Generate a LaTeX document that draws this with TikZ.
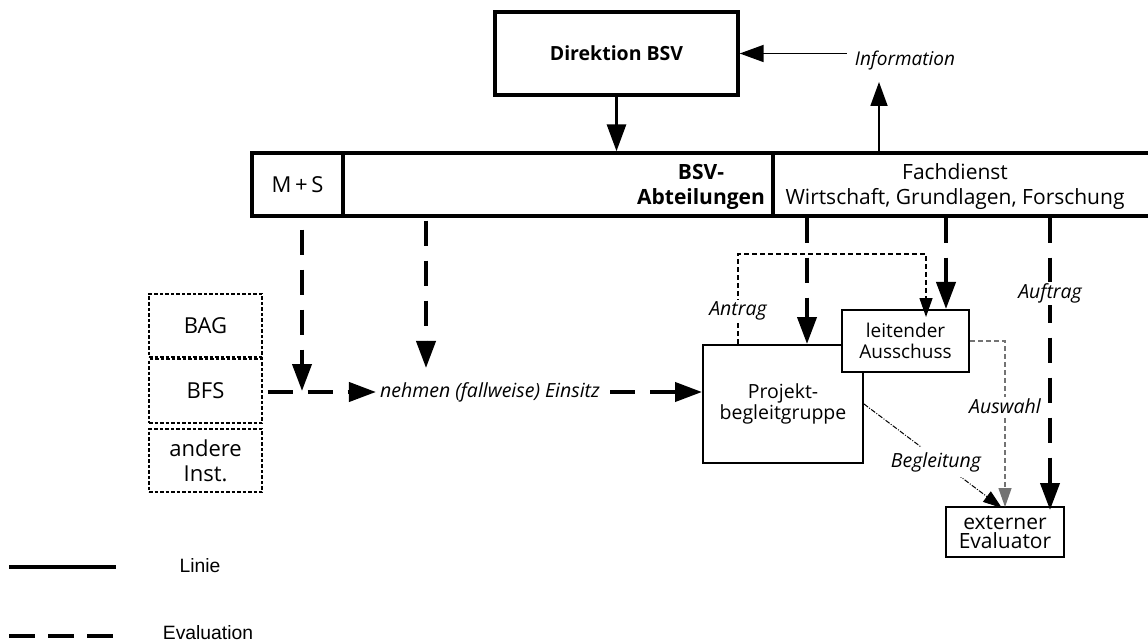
\documentclass[tikz,border=0pt]{standalone}
\usepackage{fontspec}
\setmainfont{Open Sans}
\newfontfamily\legendfont{Liberation Sans}
\usetikzlibrary{arrows.meta,calc}
\newcommand{\fs}[1]{\fontsize{#1}{#1}\selectfont}
\begin{document}
\begin{tikzpicture}[x=1pt,y=-1pt,
  box/.style={draw,line width=2pt,inner sep=0pt,align=center},
  thickbox/.style={draw,line width=3.4pt,inner sep=0pt,align=center},
  dotbox/.style={draw,line width=1.3pt,dash pattern=on 3.5pt off 2pt,inner sep=0pt,align=center,font=\fs{22}},
  lab/.style={font=\itshape\fs{19.5},fill=white,inner sep=1.5pt},
  bigtip/.style={-{Triangle[length=27pt,width=19pt]}},
  smalltip/.style={-{Triangle[length=19pt,width=13pt]}},
  solidline/.style={line width=3pt,bigtip},
  infoline/.style={line width=1.8pt,-{Triangle[length=24pt,width=17pt]}},
  evalline/.style={line width=4pt,dash pattern=on 25pt off 15pt,bigtip},
  thindash/.style={line width=1.2pt,dash pattern=on 5pt off 3pt,smalltip},
]
\useasboundingbox (0,0) rectangle (1148,644);
\fill[white] (0,0) rectangle (1148,644);

% top
\node[thickbox,minimum width=243pt,minimum height=83pt,font=\bfseries\fs{19.5}] (dir) at (616.5,53.5) {Direktion BSV};
\node[font=\itshape\fs{19},inner sep=0pt] (info) at (905,61) {Information};

% bar
\node[thickbox,minimum width=91pt,minimum height=63pt,font=\fs{22}] (ms) at (297.5,184.5) {M\,+\,S};
\node[thickbox,minimum width=430pt,minimum height=63pt] (abt) at (558,184.5) {};
\node[thickbox,minimum width=377pt,minimum height=63pt] (fach) at (961.5,184.5) {};
\node[font=\bfseries\fs{21},align=center,inner sep=0pt] (abttxt) at (701,186.5) {BSV-\\[4pt]Abteilungen};
\node[font=\fs{21},align=center,inner sep=0pt] (fachtxt) at (955,186.5) {Fachdienst\\[4pt]Wirtschaft, Grundlagen, Forschung};

% left institutions
\node[dotbox,minimum width=113pt,minimum height=63pt] (bag) at (205.5,325.5) {BAG};
\node[dotbox,minimum width=113pt,minimum height=64pt] (bfs) at (205.5,391) {BFS};
\node[dotbox,minimum width=113pt,minimum height=63pt] (andere) at (205.5,460.5) {andere\\[3pt]Inst.};

\node[font=\itshape\fs{19.5},inner sep=0pt] (nehmen) at (490,392) {nehmen (fallweise) Einsitz};

% right boxes
\node[box,minimum width=160pt,minimum height=118pt,font=\fs{19.5}] (pbg) at (783,404) {Projekt-\\[2pt]begleitgruppe};
\node[box,minimum width=127pt,minimum height=62pt,font=\fs{19},fill=white] (la) at (905.5,341) {leitender\\[2pt]Ausschuss};
\node[box,minimum width=118pt,minimum height=50pt,font=\fs{21}] (ext) at (1005,532) {externer\\[-2pt]Evaluator};

% solid arrows
\draw[solidline] (dir.south) -- (dir.south |- abt.north);
\draw[infoline] (info.west |- dir.east) ++(-8,0) -- (dir.east);
\coordinate (infotip) at (879,82);
\draw[infoline] (fach.north -| infotip) -- (infotip);

% evaluation arrows (thick dashed)
\draw[evalline,dash phase=28pt] (ms.south -| 302,0) -- (bfs.east -| 302,0);
\draw[evalline] ($(abt.south)+(-132,3)$) -- ($(nehmen.north)+(-64,-14)$);
\draw[evalline,shorten <=5pt] (bfs.east |- nehmen.west) -- ([xshift=-4pt]nehmen.west);
\draw[evalline,shorten <=10pt] (nehmen.east) -- (pbg.west |- nehmen.east);
\draw[evalline] (abt.south -| 807,0) -- (pbg.north -| 807,0);
\draw[evalline] (abt.south -| 946,0) -- (la.north -| 946,0);
\draw[evalline] (fach.south -| 1050,0) -- node[lab,pos=0.26,fill=white,inner sep=2pt] (auftrag) {Auftrag} ([yshift=-4pt]ext.north -| 1050,0);

% thin connectors
\coordinate (antragA) at (738,254);
\coordinate (antragB) at (926,254);
\draw[thindash] (pbg.north -| antragA) -- (antragA) -- (antragB) -- ([yshift=-8pt]la.north -| antragB);
\node[lab] (antrag) at (738,311) {Antrag};

\coordinate (auswA) at (1005,341);
\draw[thindash,draw=black!55] (la.east |- auswA) -- (auswA) -- ([yshift=-1pt]ext.north);
\node[lab] (auswahl) at (1005,406) {Auswahl};

\draw[line width=1pt,dash pattern=on 5pt off 1.5pt on 1pt off 1.5pt,smalltip] (pbg.east) -- ([xshift=-3pt,yshift=-2pt]ext.north);
\node[lab,inner sep=5pt] (begl) at (936,462) {Begleitung};

% legend
\draw[line width=3.5pt] (9,567) -- (116,567);
\node[font=\legendfont\fs{19.3},inner sep=0pt] (linie) at (200,566) {Linie};
\draw[line width=3.5pt,dash pattern=on 26pt off 13pt] (9,636) -- (113,636);
\node[font=\legendfont\fs{19.3},inner sep=0pt] (evaluation) at (208,633) {Evaluation};
\end{tikzpicture}
\end{document}
